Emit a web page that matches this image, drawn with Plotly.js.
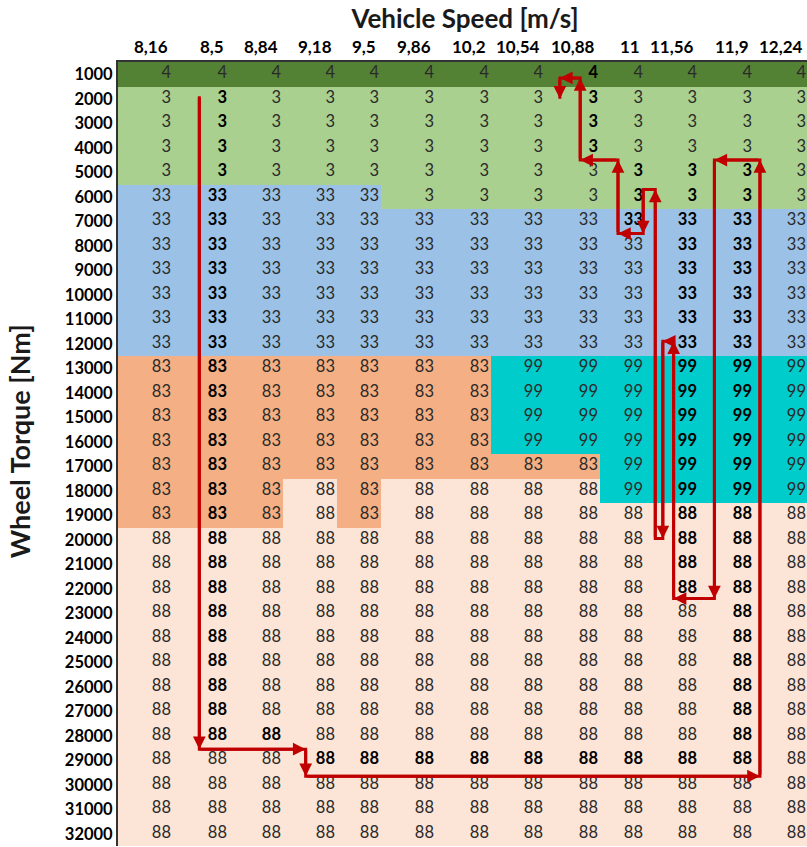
<!DOCTYPE html>
<html><head><meta charset="utf-8">
<script src="https://cdn.plot.ly/plotly-3.0.1.min.js"></script>
<style>html,body{margin:0;padding:0;background:#fff}</style>
</head><body><div id="chart" style="width:807px;height:847px"></div>
<script>
// ---------------- data ----------------
const speedLabels = ['8,16','8,5','8,84','9,18','9,5','9,86','10,2','10,54','10,88','11','11,56','11,9','12,24'];
const torqueLabels = [1000,2000,3000,4000,5000,6000,7000,8000,9000,10000,11000,12000,13000,14000,15000,16000,
  17000,18000,19000,20000,21000,22000,23000,24000,25000,26000,27000,28000,29000,30000,31000,32000];
const gearMode = [
  [4,4,4,4,4,4,4,4,4,4,4,4,4],
  [3,3,3,3,3,3,3,3,3,3,3,3,3],
  [3,3,3,3,3,3,3,3,3,3,3,3,3],
  [3,3,3,3,3,3,3,3,3,3,3,3,3],
  [3,3,3,3,3,3,3,3,3,3,3,3,3],
  [33,33,33,33,33,3,3,3,3,3,3,3,3],
  [33,33,33,33,33,33,33,33,33,33,33,33,33],
  [33,33,33,33,33,33,33,33,33,33,33,33,33],
  [33,33,33,33,33,33,33,33,33,33,33,33,33],
  [33,33,33,33,33,33,33,33,33,33,33,33,33],
  [33,33,33,33,33,33,33,33,33,33,33,33,33],
  [33,33,33,33,33,33,33,33,33,33,33,33,33],
  [83,83,83,83,83,83,83,99,99,99,99,99,99],
  [83,83,83,83,83,83,83,99,99,99,99,99,99],
  [83,83,83,83,83,83,83,99,99,99,99,99,99],
  [83,83,83,83,83,83,83,99,99,99,99,99,99],
  [83,83,83,83,83,83,83,83,83,99,99,99,99],
  [83,83,83,88,83,88,88,88,88,99,99,99,99],
  [83,83,83,88,83,88,88,88,88,88,88,88,88],
  [88,88,88,88,88,88,88,88,88,88,88,88,88],
  [88,88,88,88,88,88,88,88,88,88,88,88,88],
  [88,88,88,88,88,88,88,88,88,88,88,88,88],
  [88,88,88,88,88,88,88,88,88,88,88,88,88],
  [88,88,88,88,88,88,88,88,88,88,88,88,88],
  [88,88,88,88,88,88,88,88,88,88,88,88,88],
  [88,88,88,88,88,88,88,88,88,88,88,88,88],
  [88,88,88,88,88,88,88,88,88,88,88,88,88],
  [88,88,88,88,88,88,88,88,88,88,88,88,88],
  [88,88,88,88,88,88,88,88,88,88,88,88,88],
  [88,88,88,88,88,88,88,88,88,88,88,88,88],
  [88,88,88,88,88,88,88,88,88,88,88,88,88],
  [88,88,88,88,88,88,88,88,88,88,88,88,88]
];
// bold (highlighted) cells per row, 'B' = bold
const boldMask = [
  '........B....',
  '.B......B....',
  '.B......B....',
  '.B......B....',
  '.B.......BBB.',
  '.B.......BBB.',
  '.B.......BBB.',
  '.B........BB.',
  '.B........BB.',
  '.B........BB.',
  '.B........BB.',
  '.B........BB.',
  '.B........BB.',
  '.B........BB.',
  '.B........BB.',
  '.B........BB.',
  '.B........BB.',
  '.B........BB.',
  '.B........BB.',
  '.B........BB.',
  '.B........BB.',
  '.B........BB.',
  '.B.........B.',
  '.B.........B.',
  '.B.........B.',
  '.B.........B.',
  '.B.........B.',
  '.BB........B.',
  '...BBBBBBBBB.',
  '.............',
  '.............',
  '.............'
];
// operating path (column position, torque), head = arrowhead at this point
const pathCol    = [1.47, 1.47, 3.42, 3.42, 12.11, 12.11, 11.28, 11.28, 10.53, 10.53, 10.33, 10.33, 10.19, 10.19, 9.96, 9.96, 9.4, 9.4, 8.64, 8.64, 8.27, 8.27];
const pathTorque = [1900, 28550, 28550, 29650, 29650, 4500, 4500, 22400, 22400, 11900, 11900, 19950, 19950, 5700, 5700, 7500, 7500, 4500, 4500, 1150, 1150, 2000];
const pathHead   = [0, 1, 1, 1, 1, 1, 1, 1, 1, 1, 1, 1, 0, 1, 0, 1, 1, 1, 1, 1, 1, 1];

// ---------------- layout / style ----------------
const colWidths = [55,56,54,54,44,55,55,54,55,45,54,55,54];
const edges = [0];
colWidths.forEach(w => edges.push(edges[edges.length-1] + w));
const colToX = c => { const i = Math.min(Math.floor(c), colWidths.length-1); return edges[i] + (c - i) * colWidths[i]; };

const FONT = 'Lato, "Open Sans", sans-serif';
const RED = '#C00000';
const zmin = 3, zmax = 99;
const norm = v => (v - zmin) / (zmax - zmin);
const colorscale = [
  [0, '#A9D08E'], [norm(3.5), '#A9D08E'],
  [norm(3.5), '#548235'], [norm(18), '#548235'],
  [norm(18), '#9BC2E6'], [norm(58), '#9BC2E6'],
  [norm(58), '#F4B084'], [norm(85.5), '#F4B084'],
  [norm(85.5), '#FCE4D6'], [norm(93), '#FCE4D6'],
  [norm(93), '#00CCCC'], [1, '#00CCCC']
];

const heat = {
  type: 'heatmap', x: edges, y: torqueLabels, z: gearMode,
  zmin: zmin, zmax: zmax, colorscale: colorscale, showscale: false,
  hoverinfo: 'skip', xgap: 0, ygap: 0
};

const tx = [], ty = [], tt = [], tc = [];
torqueLabels.forEach((t, r) => {
  speedLabels.forEach((s, c) => {
    const b = boldMask[r][c] === 'B';
    tx.push(edges[c+1] - 2);
    ty.push(t);
    tt.push(b ? '<b>' + gearMode[r][c] + '</b>' : String(gearMode[r][c]));
    tc.push(b ? '#000000' : '#2a2a2a');
  });
});
const cellText = {
  type: 'scatter', mode: 'text', x: tx, y: ty, text: tt,
  textposition: 'middle left', textfont: {family: FONT, size: 16.5, color: tc},
  hoverinfo: 'skip', cliponaxis: false, showlegend: false
};

const pathLine = {
  type: 'scatter', mode: 'lines', x: pathCol.map(colToX), y: pathTorque,
  line: {color: RED, width: 3}, hoverinfo: 'skip', showlegend: false
};

const annotations = [];
speedLabels.forEach((s, c) => {
  annotations.push({
    x: edges[c+1] - 3, y: 1, xref: 'x', yref: 'paper', xanchor: 'right', yanchor: 'bottom',
    yshift: 3, text: '<b>' + s + '</b>', showarrow: false,
    font: {family: FONT, size: 17, color: '#000'}
  });
});
for (let i = 1; i < pathCol.length; i++) {
  if (!pathHead[i]) continue;
  annotations.push({
    x: colToX(pathCol[i]), y: pathTorque[i], ax: colToX(pathCol[i-1]), ay: pathTorque[i-1],
    xref: 'x', yref: 'y', axref: 'x', ayref: 'y', text: '', showarrow: true,
    arrowhead: 2, arrowsize: 0.85, arrowwidth: 3, arrowcolor: RED, standoff: 0
  });
}
annotations.push({
  x: -0.142, y: 0.5166, xref: 'paper', yref: 'paper', textangle: -90,
  text: '<b>Wheel Torque [Nm]</b>', showarrow: false, xanchor: 'center', yanchor: 'middle',
  font: {family: FONT, size: 27, color: '#1a1a1a'}
});

const layout = {
  width: 807, height: 847,
  margin: {l: 118, r: 0, t: 62, b: 1, pad: 0},
  paper_bgcolor: '#ffffff', plot_bgcolor: '#ffffff',
  title: {text: '<b>Vehicle Speed [m/s]</b>', x: 465/807, xanchor: 'center', y: 1 - 19/847, yanchor: 'middle',
          font: {family: FONT, size: 26, color: '#1a1a1a'}},
  xaxis: {range: [0, 689], showgrid: false, zeroline: false, showticklabels: false, ticks: '',
          showline: true, side: 'top', linecolor: '#333', linewidth: 2, fixedrange: true},
  yaxis: {range: [32500, 500], showgrid: false, zeroline: false, ticks: '',
          tickvals: torqueLabels, ticktext: torqueLabels.map(t => '<b>' + t + '</b>'),
          tickfont: {family: FONT, size: 16.5, color: '#000'},
          showline: true, linecolor: '#333', linewidth: 2, fixedrange: true},
  annotations: annotations,
  showlegend: false
};

Plotly.newPlot('chart', [heat, cellText, pathLine], layout, {displayModeBar: false, staticPlot: true});
</script>
</body></html>
